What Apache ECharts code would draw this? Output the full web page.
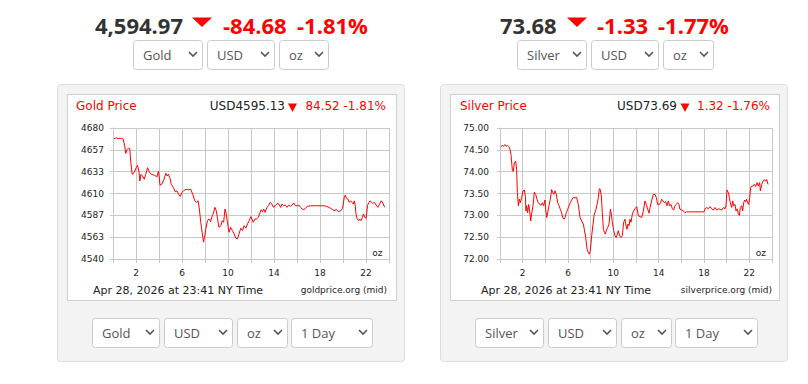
<!DOCTYPE html>
<html>
<head>
<meta charset="utf-8">
<script src="https://cdn.jsdelivr.net/npm/echarts@6/dist/echarts.min.js"></script>
<style>
html,body{margin:0;padding:0;background:#fff;}
#chart{width:808px;height:384px;}
</style>
</head>
<body>
<div id="chart"></div>
<script>
// ---------- DATA ----------
const hourTicks = [0, 24, 2]; // min, max, step (hours of the day)
const goldTickLabels = ['4540', '4563', '4587', '4610', '4633', '4657', '4680'];
const goldRange = [4540, 4680];
const silverRange = [72, 75, 0.5];

const goldHours = [0.09,0.29,0.44,0.73,0.88,1.02,1.11,1.23,1.37,1.46,1.55,1.67,1.84,2.02,2.13,2.25,2.34,2.43,2.57,2.72,2.84,3.01,3.19,3.36,3.60,3.83,3.95,4.01,4.09,4.24,4.44,4.59,4.71,4.82,4.94,5.06,5.26,5.41,5.56,5.70,5.85,5.99,6.14,6.35,6.58,6.75,6.93,7.11,7.28,7.40,7.51,7.63,7.75,7.87,7.98,8.10,8.22,8.33,8.48,8.63,8.74,8.86,8.98,9.09,9.21,9.39,9.50,9.62,9.74,9.85,9.97,10.09,10.23,10.38,10.53,10.67,10.82,10.96,11.11,11.26,11.40,11.55,11.70,11.84,11.99,
  12.20,12.35,12.50,12.64,12.79,12.88,13.00,13.11,13.23,13.38,13.52,13.67,13.81,13.96,14.11,14.34,14.46,14.58,14.69,14.84,14.99,15.13,15.28,15.42,15.57,15.72,15.86,16.01,16.16,16.30,16.45,16.59,16.74,16.89,17.18,17.47,17.77,18.06,18.35,18.56,18.79,19.02,19.23,19.43,19.61,19.81,19.96,20.11,20.19,20.31,20.43,20.55,20.66,20.78,20.90,20.98,21.07,21.13,21.22,21.34,21.45,21.57,21.69,21.78,21.89,22.01,22.13,22.24,22.36,22.48,22.59,22.74,22.89,23.03,23.18,23.33,23.47,23.62];
const goldPrices = [4668.7,4669.4,4668.7,4669.0,4668.3,4660.6,4652.8,4657.0,4658.8,4657.7,4642.9,4630.5,4632.3,4637.6,4640.1,4634.0,4623.4,4630.5,4628.7,4625.2,4630.5,4637.6,4632.3,4630.5,4629.4,4628.0,4634.0,4628.7,4618.8,4619.9,4625.2,4631.6,4628.7,4630.5,4627.0,4619.9,4616.4,4611.8,4612.8,4609.3,4606.8,4611.1,4612.8,4614.6,4613.9,4614.6,4609.3,4602.2,4600.5,4602.2,4593.4,4579.2,4568.6,4558.0,4565.1,4573.9,4581.0,4582.8,4580.0,4586.3,4589.1,4595.2,4591.6,4582.8,4573.9,4575.7,4581.0,4579.2,4593.4,4588.1,4577.5,4568.6,4573.9,4570.4,4566.9,4562.3,4561.6,4566.9,4572.9,4570.4,4575.7,4572.9,4577.5,4581.0,4585.3,
  4579.2,4582.8,4582.8,4584.5,4589.8,4592.7,4590.6,4593.4,4589.8,4595.2,4596.9,4600.5,4598.7,4595.2,4596.9,4599.8,4597.6,4595.2,4598.7,4596.9,4597.6,4595.2,4597.6,4596.2,4597.6,4599.8,4596.9,4596.9,4597.6,4595.2,4593.4,4592.7,4594.1,4596.2,4596.9,4596.9,4596.9,4596.9,4596.9,4596.2,4595.2,4593.4,4591.6,4592.7,4590.6,4591.6,4594.1,4605.8,4608.2,4604.7,4604.0,4600.5,4602.2,4600.5,4598.7,4602.2,4596.9,4588.1,4583.5,4581.0,4582.8,4581.0,4584.5,4588.1,4584.5,4583.5,4596.9,4600.5,4602.2,4600.5,4599.4,4600.5,4597.6,4595.2,4598.7,4602.2,4599.8,4595.2];

const silverHours = [0.09,0.21,0.32,0.44,0.56,0.68,0.79,0.88,0.97,1.09,1.18,1.26,1.38,1.47,1.53,1.62,1.71,1.79,1.91,2.03,2.15,2.24,2.29,2.35,2.44,2.53,2.62,2.71,2.79,2.91,3.03,3.15,3.26,3.38,3.50,3.62,3.74,3.85,3.97,4.03,4.12,4.21,4.32,4.44,4.56,4.65,4.74,4.85,4.97,5.09,5.21,5.32,5.44,5.53,5.65,5.74,5.85,5.97,6.09,6.21,6.32,6.47,6.62,6.76,6.91,7.06,7.21,7.35,7.44,7.56,7.68,7.79,7.88,7.97,8.09,8.21,8.32,8.44,8.56,8.68,8.76,8.85,8.94,9.03,9.12,9.21,9.29,9.38,9.50,9.62,9.74,9.82,9.91,10.03,10.15,10.26,10.35,10.44,10.56,10.68,10.79,10.91,11.03,11.12,11.21,11.29,11.38,11.47,11.56,11.68,11.79,11.91,12.06,
  12.21,12.35,12.50,12.65,12.79,12.91,13.03,13.15,13.24,13.38,13.53,13.68,13.79,13.91,14.03,14.15,14.26,14.38,14.50,14.62,14.74,14.85,14.97,15.09,15.21,15.32,15.44,15.56,15.68,15.79,15.88,16.03,16.18,16.32,16.47,16.62,16.91,17.21,17.50,17.79,18.00,18.09,18.24,18.38,18.53,18.68,18.82,18.97,19.12,19.26,19.41,19.56,19.71,19.85,19.94,20.03,20.15,20.24,20.32,20.44,20.53,20.62,20.74,20.82,20.94,21.03,21.12,21.21,21.32,21.41,21.50,21.59,21.68,21.76,21.85,21.94,22.03,22.12,22.21,22.32,22.44,22.56,22.68,22.79,22.91,22.97,23.09,23.21,23.32,23.44,23.53,23.65];
const silverPrices = [74.57,74.61,74.58,74.62,74.58,74.60,74.57,74.51,74.39,74.03,74.01,74.20,74.24,74.05,73.52,73.22,73.37,73.29,73.41,73.56,73.58,73.43,73.10,73.22,73.06,73.25,73.10,72.87,73.03,73.22,73.53,73.48,73.37,73.29,73.25,73.23,73.29,73.22,73.35,73.14,72.95,73.06,73.22,73.37,73.59,73.52,73.48,73.56,73.48,73.29,73.22,73.14,73.06,72.95,72.91,72.95,73.06,73.14,73.22,73.29,73.35,73.41,73.40,73.41,73.25,72.95,72.87,72.80,72.68,72.49,72.23,72.15,72.11,72.19,72.53,72.80,73.03,73.10,73.25,73.41,73.61,73.59,73.44,73.06,72.68,72.61,72.57,72.65,72.72,72.80,73.14,73.03,72.84,72.65,72.53,72.49,72.57,72.65,72.53,72.49,72.53,72.84,72.91,72.76,72.68,72.80,72.76,72.91,72.84,73.03,73.10,73.15,73.20,
  72.99,72.97,72.95,73.10,73.33,73.25,73.14,73.05,73.18,73.33,73.48,73.48,73.41,73.25,73.25,73.27,73.37,73.33,73.29,73.31,73.22,73.33,73.22,73.25,73.15,73.12,73.22,73.25,73.29,73.25,73.14,73.12,73.10,73.06,73.08,73.08,73.08,73.08,73.08,73.08,73.08,73.15,73.18,73.15,73.20,73.15,73.12,73.18,73.12,73.15,73.14,73.12,73.18,73.15,73.22,73.58,73.52,73.41,73.29,73.18,73.33,73.22,73.25,73.10,73.15,73.03,73.00,73.18,73.22,73.10,73.29,73.35,73.31,73.37,73.29,73.25,73.41,73.63,73.67,73.67,73.71,73.66,73.75,73.67,73.75,73.56,73.71,73.78,73.82,73.78,73.82,73.71];

const goldHeader = { price: '4,594.97', change: '-84.68', pct: '-1.81%' };
const silverHeader = { price: '73.68', change: '-1.33', pct: '-1.77%' };
const goldInner = { title: 'Gold Price', quote: 'USD4595.13', change: '84.52 -1.81%', source: 'goldprice.org (mid)' };
const silverInner = { title: 'Silver Price', quote: 'USD73.69', change: '1.32 -1.76%', source: 'silverprice.org (mid)' };
const stamp = 'Apr 28, 2026 at 23:41 NY Time';
const unitLabel = 'oz';

// ---------- DRAWING ----------
const zip = (xs, ys) => xs.map((x, i) => [x, ys[i]]);
const RED = '#ff0000';
const GRIDC = '#c8c8c8';
const AXF = '"DejaVu Sans", Verdana, sans-serif';
const UIF = '"Open Sans", "Noto Sans", sans-serif';

const g = [];
function panel(x0, x1) {
  g.push({ type: 'rect', z: -20, shape: { x: x0 + 0.5, y: 84.5, width: x1 - x0, height: 277, r: 3 },
    style: { fill: '#f3f3f3', stroke: '#dedede', lineWidth: 1 } });
  g.push({ type: 'rect', z: -19, shape: { x: x0 + 10.5, y: 94.5, width: x1 - x0 - 18, height: 206 },
    style: { fill: '#ffffff', stroke: '#cfcfcf', lineWidth: 1 } });
}
function select(x0, x1, y0, y1, label) {
  g.push({ type: 'rect', z: 1, shape: { x: x0 + 0.5, y: y0 + 0.5, width: x1 - x0, height: y1 - y0, r: 3 },
    style: { fill: '#fff', stroke: '#cccccc', lineWidth: 1 } });
  const cy = (y0 + y1) / 2;
  g.push({ type: 'text', z: 2, x: x0 + 10, y: cy, style: { text: label, fill: '#555', fontSize: 13, fontFamily: UIF, verticalAlign: 'middle', align: 'left' } });
  g.push({ type: 'polyline', z: 2, shape: { points: [[x1 - 13, cy - 2.5], [x1 - 9, cy + 1.5], [x1 - 5, cy - 2.5]] },
    style: { stroke: '#555', lineWidth: 1.6, fill: null } });
}
function header(h, xPrice, xTri, xChg, xPct) {
  g.push({ type: 'text', x: xPrice, y: 24.5, style: { text: h.price, fill: '#333', fontSize: 22, fontWeight: 'bold', fontFamily: UIF, verticalAlign: 'middle' } });
  g.push({ type: 'polygon', shape: { points: [[xTri, 17.5], [xTri + 20, 17.5], [xTri + 10, 27]] }, style: { fill: RED } });
  g.push({ type: 'text', x: xChg, y: 24.5, style: { text: h.change, fill: RED, fontSize: 22, fontWeight: 'bold', fontFamily: UIF, verticalAlign: 'middle' } });
  g.push({ type: 'text', x: xPct, y: 24.5, style: { text: h.pct, fill: RED, fontSize: 22, fontWeight: 'bold', fontFamily: UIF, verticalAlign: 'middle' } });
}
function inner(t, xTitle, xQuoteR, xTri, xChgR, xStamp, xSrcR, xOzR) {
  g.push({ type: 'text', x: xTitle, y: 106, style: { text: t.title, fill: RED, fontSize: 12, fontFamily: AXF, verticalAlign: 'middle' } });
  g.push({ type: 'text', x: xQuoteR, y: 106, style: { text: t.quote, fill: '#222', fontSize: 12, fontFamily: AXF, verticalAlign: 'middle', align: 'right' } });
  g.push({ type: 'polygon', shape: { points: [[xTri, 103.5], [xTri + 9, 103.5], [xTri + 4.5, 112]] }, style: { fill: RED } });
  g.push({ type: 'text', x: xChgR, y: 106, style: { text: t.change, fill: RED, fontSize: 12, fontFamily: AXF, verticalAlign: 'middle', align: 'right' } });
  g.push({ type: 'text', x: xStamp, y: 290, style: { text: stamp, fill: '#222', fontSize: 11, fontFamily: AXF, verticalAlign: 'middle' } });
  g.push({ type: 'text', x: xSrcR, y: 290, style: { text: t.source, fill: '#222', fontSize: 9, fontFamily: AXF, verticalAlign: 'middle', align: 'right' } });
  g.push({ type: 'text', z: 5, x: xOzR, y: 252.5, style: { text: unitLabel, fill: '#222', fontSize: 9, fontFamily: AXF, verticalAlign: 'middle', align: 'right' } });
}

panel(57, 404);
panel(440, 787);
header(goldHeader, 95, 192, 223, 297);
header(silverHeader, 500, 567, 597, 658);
select(133, 202, 40, 69, 'Gold'); select(207, 274, 40, 69, 'USD'); select(279, 328, 40, 69, 'oz');
select(517, 586, 40, 69, 'Silver'); select(591, 658, 40, 69, 'USD'); select(663, 713, 40, 69, 'oz');
select(92, 159, 318, 347, 'Gold'); select(164, 232, 318, 347, 'USD'); select(237, 287, 318, 347, 'oz'); select(291, 372, 318, 347, '1 Day');
select(475, 543, 318, 347, 'Silver'); select(548, 616, 318, 347, 'USD'); select(621, 671, 318, 347, 'oz'); select(675, 757, 318, 347, '1 Day');
inner(goldInner, 76, 285, 288, 386, 93, 387, 382.5);
inner(silverInner, 460, 677, 680.5, 770, 481, 772, 766);

const axisLine = { show: true, lineStyle: { color: GRIDC, width: 1 } };
const splitLine = { show: true, lineStyle: { color: GRIDC, width: 1 } };
const tick = { show: true, length: 4, lineStyle: { color: GRIDC } };
const labelStyle = { color: '#222', fontSize: 9, fontFamily: AXF };

function xAxisFor(gi) {
  return { type: 'value', gridIndex: gi, min: hourTicks[0], max: hourTicks[1], interval: hourTicks[2],
    axisLine, splitLine, axisTick: tick,
    axisLabel: Object.assign({}, labelStyle, { margin: 9, showMinLabel: true, showMaxLabel: true,
      formatter: v => (v % 4 === 2 ? String(v) : '') }) };
}

const option = {
  animation: false,
  backgroundColor: '#fff',
  graphic: g,
  grid: [
    { left: 113, top: 128, width: 276, height: 131, containLabel: false },
    { left: 500, top: 128, width: 272, height: 131, containLabel: false }
  ],
  xAxis: [xAxisFor(0), xAxisFor(1)],
  yAxis: [
    { type: 'value', gridIndex: 0, min: goldRange[0], max: goldRange[1], show: false, position: 'right' },
    { type: 'category', gridIndex: 0, position: 'left', data: goldTickLabels, boundaryGap: false,
      axisLine, splitLine, axisTick: Object.assign({}, tick, { length: 3 }),
      axisLabel: Object.assign({}, labelStyle, { margin: 9, interval: 0 }) },
    { type: 'value', gridIndex: 1, position: 'left', min: silverRange[0], max: silverRange[1], interval: silverRange[2],
      axisLine, splitLine, axisTick: Object.assign({}, tick, { length: 3 }),
      axisLabel: Object.assign({}, labelStyle, { margin: 11, formatter: v => v.toFixed(2) }) }
  ],
  series: [
    { type: 'line', xAxisIndex: 0, yAxisIndex: 0, data: zip(goldHours, goldPrices), showSymbol: false,
      lineStyle: { color: RED, width: 1 }, itemStyle: { color: RED }, z: 3 },
    { type: 'line', xAxisIndex: 1, yAxisIndex: 2, data: zip(silverHours, silverPrices), showSymbol: false,
      lineStyle: { color: RED, width: 1 }, itemStyle: { color: RED }, z: 3 }
  ]
};

const chart = echarts.init(document.getElementById('chart'), null, { renderer: 'svg', width: 808, height: 384 });
chart.setOption(option);
</script>
</body>
</html>
